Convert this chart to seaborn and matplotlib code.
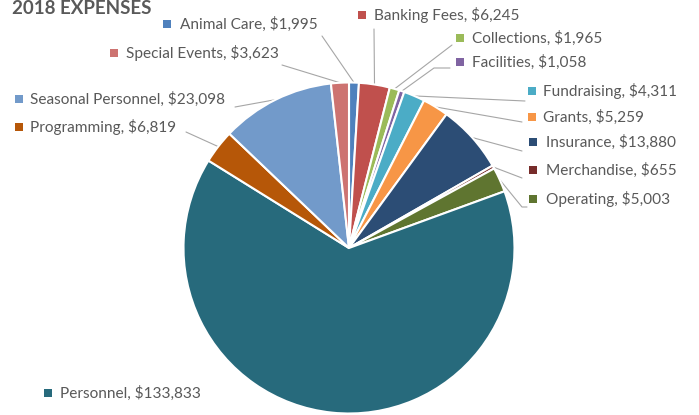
import numpy as np
import matplotlib
matplotlib.use("Agg")
import matplotlib.pyplot as plt
import seaborn as sns

# -------------------------------
# Data
# -------------------------------

categories = [
    "Animal Care", "Banking Fees", "Collections", "Facilities",
    "Fundraising", "Grants", "Insurance", "Merchandise", "Operating",
    "Personnel", "Programming", "Seasonal Personnel", "Special Events",
]
amounts = [1995, 6245, 1965, 1058, 4311, 5259, 13880, 655, 5003,
           133833, 6819, 23098, 3623]

colors = [
    "#4F81BD", "#C0504D", "#9BBB59", "#8064A2", "#4BACC6", "#F79646",
    "#2C4D75", "#772C2A", "#5F7530", "#276A7C", "#B65708", "#729ACA",
    "#CD7371",
]

# label placement in pixels (square x, square y, text x) + leader line points
label_pos = {
    "Animal Care": (167, 24, 180, [(322, 36)]),
    "Banking Fees": (362, 15, 374, [(374, 29)]),
    "Collections": (460, 38, 472, [(452, 45)]),
    "Facilities": (460, 62, 472, [(450, 68), (434, 68)]),
    "Fundraising": (532, 91, 543, [(525, 101)]),
    "Grants": (532, 117, 543, [(522, 122)]),
    "Insurance": (533, 142, 546, [(522, 151)]),
    "Merchandise": (533, 170, 546, [(522, 178)]),
    "Operating": (533, 199, 546, [(527, 207), (522, 207)]),
    "Personnel": (48, 393, 60, []),
    "Programming": (19, 127, 30, [(186, 132)]),
    "Seasonal Personnel": (19, 99, 30, [(235, 107)]),
    "Special Events": (114, 53, 126, [(282, 65)]),
}

# -------------------------------
# Figure
# -------------------------------

sns.set_theme(style="white")
plt.rcParams["font.family"] = ["Lato", "DejaVu Sans"]

W, H = 699, 415
fig = plt.figure(figsize=(W / 100, H / 100), dpi=100)
ax = fig.add_axes([0, 0, 1, 1])

cx, cy, r = 349, 248, 165.5
palette = sns.color_palette(colors)

ax.pie(
    amounts,
    colors=palette,
    startangle=90,
    counterclock=False,
    center=(cx, H - cy),
    radius=r,
    wedgeprops=dict(edgecolor="white", linewidth=1.5),
)
ax.set_xlim(0, W)
ax.set_ylim(0, H)
ax.set_aspect("equal")
ax.axis("off")

text_color = "#595959"
total = sum(amounts)
cum = np.cumsum([0] + amounts)

for i, (name, val) in enumerate(zip(categories, amounts)):
    sx, sy, tx, leader = label_pos[name]
    ax.plot(sx, H - sy, marker="s", markersize=5.2, color=palette[i],
            markeredgewidth=0)
    ax.text(tx, H - sy, f"{name}, ${val:,}", fontsize=11.1,
            color=text_color, va="center", ha="left")
    if leader:
        mid = (cum[i] + val / 2) / total * 2 * np.pi
        ex = cx + r * np.sin(mid)
        ey = cy - r * np.cos(mid)
        pts = leader + [(ex, ey)]
        xs = [p[0] for p in pts]
        ys = [H - p[1] for p in pts]
        ax.plot(xs, ys, color="#A6A6A6", linewidth=0.8, zorder=0.5)

ax.text(12, H - 9, "2018 EXPENSES", fontsize=13.5, fontweight="bold",
        color=text_color, va="center", ha="left")

fig.savefig("out.png", dpi=100)
plt.close(fig)
